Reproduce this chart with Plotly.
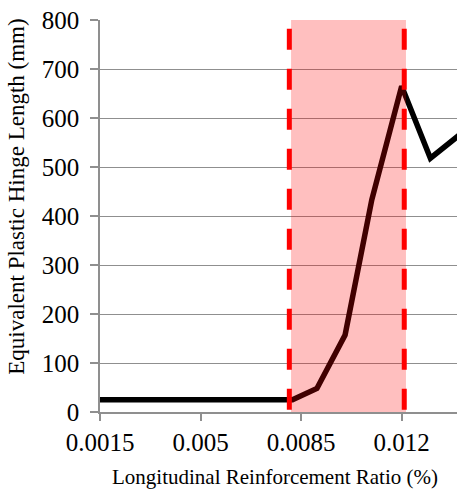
import plotly.graph_objects as go

# Data
ratio = [0.0015, 0.0035, 0.005, 0.0065, 0.0082, 0.00905, 0.01003, 0.01096, 0.0120, 0.0130, 0.0140]
hinge_len = [25, 24, 24, 25, 25, 48, 157, 433, 665, 518, 565]

tick_vals = [0.0015, 0.005, 0.0085, 0.012]
tick_text = ["0.0015", "0.005", "0.0085", "0.012"]
y_ticks = [0, 100, 200, 300, 400, 500, 600, 700, 800]

band_x = [0.00815, 0.01215]
dash_x = [0.00809, 0.01209]

FONT = "Liberation Serif"
GRID = "#8f8f8f"

fig = go.Figure()
fig.add_trace(go.Scatter(x=ratio, y=hinge_len, mode="lines",
                         line=dict(color="black", width=5.5), showlegend=False))

# shaded band (above the line, semi-transparent)
fig.add_shape(type="rect", xref="x", yref="y", x0=band_x[0], x1=band_x[1], y0=0, y1=800,
              fillcolor="red", opacity=0.25, line=dict(width=0), layer="above")
for dx in dash_x:
    fig.add_shape(type="line", xref="x", yref="y", x0=dx, x1=dx, y0=782, y1=0,
                  line=dict(color="#ff0000", width=5, dash="21px,19px"), layer="above")

fig.add_annotation(text="Longitudinal Reinforcement Ratio (%)", xref="paper", yref="paper",
                   x=(275 - 100) / 357, y=(411.7 - 477) / 391, xanchor="center", yanchor="middle",
                   showarrow=False, font=dict(family=FONT, size=21, color="black"))
fig.add_annotation(text="Equivalent Plastic Hinge Length (mm)", xref="paper", yref="paper",
                   x=(17 - 100) / 357, y=(411.7 - 197) / 391, xanchor="center", yanchor="middle",
                   textangle=-90, showarrow=False, font=dict(family=FONT, size=23, color="black"))

fig.update_layout(
    width=457, height=491,
    margin=dict(l=100, r=0, t=20, b=79.3, pad=0),
    paper_bgcolor="white", plot_bgcolor="white",
    font=dict(family=FONT, color="black"),
    xaxis=dict(range=[0.0015, 0.013926], tickmode="array", tickvals=tick_vals, ticktext=tick_text,
               showgrid=False, zeroline=False, showline=True, linecolor=GRID, linewidth=1.5,
               ticks="outside", ticklen=7, tickwidth=1.5, tickcolor=GRID,
               tickfont=dict(family=FONT, size=25, color="black")),
    yaxis=dict(range=[0, 800], tickmode="array", tickvals=y_ticks,
               showgrid=True, gridcolor=GRID, gridwidth=1.3, zeroline=False,
               showline=True, linecolor=GRID, linewidth=1.5,
               ticks="outside", ticklen=8, tickwidth=1.5, tickcolor=GRID,
               ticklabelstandoff=6,
               tickfont=dict(family=FONT, size=25, color="black")),
)

fig.write_html("out.html")
